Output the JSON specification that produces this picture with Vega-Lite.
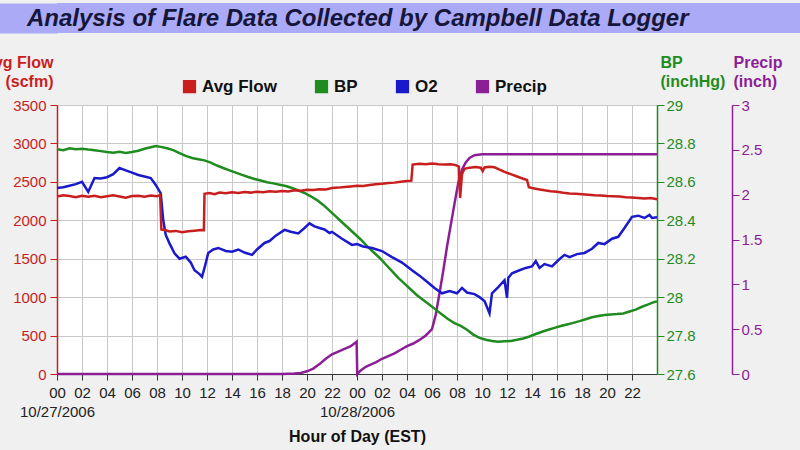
{
  "$schema": "https://vega.github.io/schema/vega-lite/v6.json",
  "background": "#f0f0f0",
  "padding": {"left": -20, "top": 3, "right": 0, "bottom": 7},
  "config": {"font": "Liberation Sans", "axis": {"labelFont": "Liberation Sans", "titleFont": "Liberation Sans"}, "legend": {"labelFont": "Liberation Sans"}},
  "columns": 1,
  "align": "none",
  "spacing": 20,
  "resolve": {"scale": {"x": "independent", "y": "independent", "color": "independent"}, "legend": {"color": "independent"}},
  "concat": [
    {
      "width": 745,
      "height": 30,
      "view": {"fill": "#aaaaf6", "stroke": null},
      "data": {"values": [{"t": "Analysis of Flare Data Collected by Campbell Data Logger", "p": 0, "q": 0.5}]},
      "mark": {"type": "text", "align": "left", "baseline": "middle", "font": "Liberation Sans", "fontSize": 24, "fontStyle": "italic", "fontWeight": "bold", "color": "#16163a", "dx": -30, "dy": 1},
      "encoding": {
        "text": {"field": "t"},
        "x": {"field": "p", "type": "quantitative", "scale": {"domain": [0, 1]}, "axis": null},
        "y": {"field": "q", "type": "quantitative", "scale": {"domain": [0, 1]},
          "axis": {"orient": "left", "values": [0.5], "labels": false, "domain": false, "grid": false, "title": null,
            "ticks": true, "tickSize": 62, "tickWidth": 30, "tickColor": "#aaaaf6", "tickCap": "butt"}}
      }
    },
    {
      "width": 600,
      "height": 269,
      "view": {"fill": "white", "stroke": "#333"},
      "data": {"values": [
        {"s":"F","h":0,"v":2310},{"s":"F","h":0.5,"v":2325},{"s":"F","h":1,"v":2315},{"s":"F","h":1.5,"v":2300},{"s":"F","h":2,"v":2320},{"s":"F","h":2.5,"v":2305},{"s":"F","h":3,"v":2318},{"s":"F","h":3.5,"v":2300},{"s":"F","h":4,"v":2312},{"s":"F","h":4.5,"v":2325},{"s":"F","h":5,"v":2310},{"s":"F","h":5.5,"v":2295},{"s":"F","h":6,"v":2315},{"s":"F","h":6.5,"v":2320},{"s":"F","h":7,"v":2305},{"s":"F","h":7.5,"v":2322},{"s":"F","h":8,"v":2312},{"s":"F","h":8.25,"v":2330},{"s":"F","h":8.35,"v":1880},{"s":"F","h":8.7,"v":1870},{"s":"F","h":9,"v":1855},{"s":"F","h":9.5,"v":1862},{"s":"F","h":10,"v":1845},{"s":"F","h":10.5,"v":1858},{"s":"F","h":11,"v":1865},{"s":"F","h":11.5,"v":1872},{"s":"F","h":11.75,"v":1870},{"s":"F","h":11.8,"v":2345},{"s":"F","h":12.2,"v":2355},{"s":"F","h":12.6,"v":2340},{"s":"F","h":13,"v":2360},{"s":"F","h":13.5,"v":2352},{"s":"F","h":14,"v":2365},{"s":"F","h":14.5,"v":2355},{"s":"F","h":15,"v":2368},{"s":"F","h":15.5,"v":2360},{"s":"F","h":16,"v":2372},{"s":"F","h":16.5,"v":2365},{"s":"F","h":17,"v":2378},{"s":"F","h":17.5,"v":2370},{"s":"F","h":18,"v":2382},{"s":"F","h":18.5,"v":2375},{"s":"F","h":19,"v":2390},{"s":"F","h":19.5,"v":2385},{"s":"F","h":20,"v":2398},{"s":"F","h":20.5,"v":2395},{"s":"F","h":21,"v":2405},{"s":"F","h":21.5,"v":2400},{"s":"F","h":22,"v":2420},{"s":"F","h":22.5,"v":2425},{"s":"F","h":23,"v":2432},{"s":"F","h":23.5,"v":2440},{"s":"F","h":24,"v":2448},{"s":"F","h":24.5,"v":2445},{"s":"F","h":25,"v":2460},{"s":"F","h":25.5,"v":2468},{"s":"F","h":26,"v":2475},{"s":"F","h":26.5,"v":2485},{"s":"F","h":27,"v":2490},{"s":"F","h":27.5,"v":2500},{"s":"F","h":28,"v":2510},{"s":"F","h":28.35,"v":2515},{"s":"F","h":28.45,"v":2725},{"s":"F","h":29,"v":2735},{"s":"F","h":29.5,"v":2728},{"s":"F","h":30,"v":2738},{"s":"F","h":30.5,"v":2730},{"s":"F","h":31,"v":2725},{"s":"F","h":31.5,"v":2730},{"s":"F","h":31.9,"v":2718},{"s":"F","h":32.15,"v":2700},{"s":"F","h":32.25,"v":2290},{"s":"F","h":32.4,"v":2600},{"s":"F","h":32.6,"v":2670},{"s":"F","h":33,"v":2685},{"s":"F","h":33.5,"v":2692},{"s":"F","h":33.9,"v":2685},{"s":"F","h":34.05,"v":2640},{"s":"F","h":34.2,"v":2688},{"s":"F","h":34.6,"v":2695},{"s":"F","h":35,"v":2690},{"s":"F","h":35.4,"v":2660},{"s":"F","h":35.8,"v":2630},{"s":"F","h":36.3,"v":2600},{"s":"F","h":36.8,"v":2570},{"s":"F","h":37.3,"v":2540},{"s":"F","h":37.6,"v":2525},{"s":"F","h":37.75,"v":2430},{"s":"F","h":38,"v":2420},{"s":"F","h":38.5,"v":2405},{"s":"F","h":39,"v":2390},{"s":"F","h":39.5,"v":2378},{"s":"F","h":40,"v":2370},{"s":"F","h":40.5,"v":2358},{"s":"F","h":41,"v":2350},{"s":"F","h":41.5,"v":2345},{"s":"F","h":42,"v":2338},{"s":"F","h":42.5,"v":2332},{"s":"F","h":43,"v":2325},{"s":"F","h":43.5,"v":2322},{"s":"F","h":44,"v":2315},{"s":"F","h":44.5,"v":2312},{"s":"F","h":45,"v":2308},{"s":"F","h":45.5,"v":2300},{"s":"F","h":46,"v":2295},{"s":"F","h":46.5,"v":2290},{"s":"F","h":47,"v":2285},{"s":"F","h":47.5,"v":2290},{"s":"F","h":48,"v":2275},

        {"s":"O","h":0,"v":2420},{"s":"O","h":0.5,"v":2430},{"s":"O","h":1,"v":2450},{"s":"O","h":1.5,"v":2470},{"s":"O","h":2,"v":2500},{"s":"O","h":2.5,"v":2370},{"s":"O","h":3,"v":2550},{"s":"O","h":3.5,"v":2545},{"s":"O","h":4,"v":2560},{"s":"O","h":4.5,"v":2600},{"s":"O","h":5,"v":2680},{"s":"O","h":5.5,"v":2650},{"s":"O","h":6,"v":2620},{"s":"O","h":6.5,"v":2590},{"s":"O","h":7,"v":2570},{"s":"O","h":7.5,"v":2550},{"s":"O","h":7.9,"v":2460},{"s":"O","h":8.3,"v":2350},{"s":"O","h":8.5,"v":2000},{"s":"O","h":8.7,"v":1810},{"s":"O","h":9,"v":1700},{"s":"O","h":9.4,"v":1570},{"s":"O","h":9.8,"v":1500},{"s":"O","h":10.3,"v":1525},{"s":"O","h":10.7,"v":1450},{"s":"O","h":11,"v":1350},{"s":"O","h":11.4,"v":1300},{"s":"O","h":11.6,"v":1265},{"s":"O","h":11.8,"v":1380},{"s":"O","h":12.1,"v":1575},{"s":"O","h":12.5,"v":1620},{"s":"O","h":12.9,"v":1640},{"s":"O","h":13.5,"v":1600},{"s":"O","h":14,"v":1590},{"s":"O","h":14.5,"v":1620},{"s":"O","h":15,"v":1580},{"s":"O","h":15.6,"v":1550},{"s":"O","h":16,"v":1620},{"s":"O","h":16.6,"v":1705},{"s":"O","h":17,"v":1730},{"s":"O","h":17.5,"v":1800},{"s":"O","h":18.2,"v":1875},{"s":"O","h":18.7,"v":1850},{"s":"O","h":19.3,"v":1830},{"s":"O","h":19.8,"v":1900},{"s":"O","h":20.2,"v":1960},{"s":"O","h":20.6,"v":1920},{"s":"O","h":21,"v":1900},{"s":"O","h":21.4,"v":1880},{"s":"O","h":21.8,"v":1835},{"s":"O","h":22,"v":1850},{"s":"O","h":22.8,"v":1760},{"s":"O","h":23.6,"v":1680},{"s":"O","h":24,"v":1690},{"s":"O","h":24.5,"v":1660},{"s":"O","h":25.2,"v":1640},{"s":"O","h":26,"v":1600},{"s":"O","h":26.8,"v":1520},{"s":"O","h":27.6,"v":1450},{"s":"O","h":28.4,"v":1350},{"s":"O","h":29,"v":1280},{"s":"O","h":29.6,"v":1200},{"s":"O","h":30.2,"v":1120},{"s":"O","h":30.8,"v":1050},{"s":"O","h":31.4,"v":1080},{"s":"O","h":32,"v":1050},{"s":"O","h":32.4,"v":1120},{"s":"O","h":32.8,"v":1060},{"s":"O","h":33.4,"v":1040},{"s":"O","h":33.8,"v":1000},{"s":"O","h":34.2,"v":950},{"s":"O","h":34.6,"v":790},{"s":"O","h":34.8,"v":1050},{"s":"O","h":35.3,"v":1130},{"s":"O","h":35.8,"v":1220},{"s":"O","h":36,"v":990},{"s":"O","h":36.1,"v":1250},{"s":"O","h":36.4,"v":1310},{"s":"O","h":37,"v":1350},{"s":"O","h":37.5,"v":1380},{"s":"O","h":38,"v":1400},{"s":"O","h":38.3,"v":1470},{"s":"O","h":38.6,"v":1380},{"s":"O","h":39,"v":1430},{"s":"O","h":39.6,"v":1400},{"s":"O","h":40.1,"v":1480},{"s":"O","h":40.6,"v":1550},{"s":"O","h":41,"v":1520},{"s":"O","h":41.6,"v":1560},{"s":"O","h":42.2,"v":1575},{"s":"O","h":42.8,"v":1630},{"s":"O","h":43.3,"v":1705},{"s":"O","h":43.8,"v":1690},{"s":"O","h":44.4,"v":1760},{"s":"O","h":44.9,"v":1785},{"s":"O","h":45.4,"v":1900},{"s":"O","h":46,"v":2045},{"s":"O","h":46.5,"v":2060},{"s":"O","h":47,"v":2030},{"s":"O","h":47.4,"v":2070},{"s":"O","h":47.6,"v":2030},{"s":"O","h":48,"v":2040},

        {"s":"B","h":0,"v":28.77},{"s":"B","h":0.5,"v":28.765},{"s":"B","h":1,"v":28.775},{"s":"B","h":1.5,"v":28.77},{"s":"B","h":2,"v":28.772},{"s":"B","h":2.5,"v":28.768},{"s":"B","h":3,"v":28.765},{"s":"B","h":3.5,"v":28.76},{"s":"B","h":4,"v":28.755},{"s":"B","h":4.5,"v":28.752},{"s":"B","h":5,"v":28.756},{"s":"B","h":5.5,"v":28.75},{"s":"B","h":6,"v":28.755},{"s":"B","h":6.5,"v":28.762},{"s":"B","h":7,"v":28.772},{"s":"B","h":7.5,"v":28.78},{"s":"B","h":7.9,"v":28.787},{"s":"B","h":8.3,"v":28.782},{"s":"B","h":8.8,"v":28.775},{"s":"B","h":9.3,"v":28.765},{"s":"B","h":9.8,"v":28.75},{"s":"B","h":10.3,"v":28.735},{"s":"B","h":10.8,"v":28.724},{"s":"B","h":11.3,"v":28.718},{"s":"B","h":11.8,"v":28.712},{"s":"B","h":12.3,"v":28.7},{"s":"B","h":12.8,"v":28.685},{"s":"B","h":13.3,"v":28.672},{"s":"B","h":13.8,"v":28.66},{"s":"B","h":14.3,"v":28.648},{"s":"B","h":14.8,"v":28.636},{"s":"B","h":15.3,"v":28.625},{"s":"B","h":15.8,"v":28.615},{"s":"B","h":16.3,"v":28.607},{"s":"B","h":16.8,"v":28.598},{"s":"B","h":17.3,"v":28.592},{"s":"B","h":17.8,"v":28.585},{"s":"B","h":18.3,"v":28.578},{"s":"B","h":18.8,"v":28.568},{"s":"B","h":19.3,"v":28.556},{"s":"B","h":19.8,"v":28.542},{"s":"B","h":20.3,"v":28.525},{"s":"B","h":20.8,"v":28.505},{"s":"B","h":21.3,"v":28.48},{"s":"B","h":21.8,"v":28.45},{"s":"B","h":22.3,"v":28.42},{"s":"B","h":22.8,"v":28.39},{"s":"B","h":23.3,"v":28.36},{"s":"B","h":23.8,"v":28.33},{"s":"B","h":24.3,"v":28.3},{"s":"B","h":24.8,"v":28.265},{"s":"B","h":25.3,"v":28.235},{"s":"B","h":25.8,"v":28.205},{"s":"B","h":26.3,"v":28.17},{"s":"B","h":26.8,"v":28.135},{"s":"B","h":27.3,"v":28.1},{"s":"B","h":27.8,"v":28.07},{"s":"B","h":28.3,"v":28.04},{"s":"B","h":28.8,"v":28.01},{"s":"B","h":29.3,"v":27.985},{"s":"B","h":29.8,"v":27.96},{"s":"B","h":30.3,"v":27.935},{"s":"B","h":30.8,"v":27.91},{"s":"B","h":31.3,"v":27.885},{"s":"B","h":31.8,"v":27.865},{"s":"B","h":32.3,"v":27.85},{"s":"B","h":32.8,"v":27.83},{"s":"B","h":33.3,"v":27.805},{"s":"B","h":33.8,"v":27.788},{"s":"B","h":34.3,"v":27.778},{"s":"B","h":34.8,"v":27.772},{"s":"B","h":35.3,"v":27.768},{"s":"B","h":35.8,"v":27.77},{"s":"B","h":36.3,"v":27.772},{"s":"B","h":36.8,"v":27.778},{"s":"B","h":37.3,"v":27.785},{"s":"B","h":37.8,"v":27.795},{"s":"B","h":38.3,"v":27.808},{"s":"B","h":38.8,"v":27.82},{"s":"B","h":39.3,"v":27.83},{"s":"B","h":39.8,"v":27.84},{"s":"B","h":40.3,"v":27.85},{"s":"B","h":40.8,"v":27.858},{"s":"B","h":41.3,"v":27.866},{"s":"B","h":41.8,"v":27.875},{"s":"B","h":42.3,"v":27.885},{"s":"B","h":42.8,"v":27.895},{"s":"B","h":43.3,"v":27.902},{"s":"B","h":43.8,"v":27.907},{"s":"B","h":44.3,"v":27.91},{"s":"B","h":44.8,"v":27.912},{"s":"B","h":45.3,"v":27.915},{"s":"B","h":45.8,"v":27.925},{"s":"B","h":46.3,"v":27.935},{"s":"B","h":46.8,"v":27.95},{"s":"B","h":47.3,"v":27.962},{"s":"B","h":47.8,"v":27.975},{"s":"B","h":48,"v":27.978},

        {"s":"P","h":0,"v":0},{"s":"P","h":18,"v":0},{"s":"P","h":18.5,"v":0.002},{"s":"P","h":19,"v":0.005},{"s":"P","h":19.5,"v":0.012},{"s":"P","h":20,"v":0.03},{"s":"P","h":20.5,"v":0.06},{"s":"P","h":21,"v":0.11},{"s":"P","h":21.5,"v":0.17},{"s":"P","h":22,"v":0.22},{"s":"P","h":22.5,"v":0.25},{"s":"P","h":23,"v":0.28},{"s":"P","h":23.5,"v":0.31},{"s":"P","h":23.97,"v":0.36},{"s":"P","h":24.02,"v":0},{"s":"P","h":24.3,"v":0.04},{"s":"P","h":24.7,"v":0.08},{"s":"P","h":25,"v":0.1},{"s":"P","h":25.5,"v":0.13},{"s":"P","h":26,"v":0.17},{"s":"P","h":26.5,"v":0.2},{"s":"P","h":27,"v":0.23},{"s":"P","h":27.5,"v":0.27},{"s":"P","h":28,"v":0.31},{"s":"P","h":28.5,"v":0.34},{"s":"P","h":29,"v":0.38},{"s":"P","h":29.5,"v":0.43},{"s":"P","h":30,"v":0.5},{"s":"P","h":30.3,"v":0.66},{"s":"P","h":30.6,"v":0.9},{"s":"P","h":30.9,"v":1.15},{"s":"P","h":31.2,"v":1.42},{"s":"P","h":31.5,"v":1.66},{"s":"P","h":31.8,"v":1.9},{"s":"P","h":32.1,"v":2.13},{"s":"P","h":32.4,"v":2.28},{"s":"P","h":32.7,"v":2.36},{"s":"P","h":33,"v":2.41},{"s":"P","h":33.4,"v":2.44},{"s":"P","h":34,"v":2.45},{"s":"P","h":48,"v":2.45}
      ]},
      "encoding": {
        "x": {"field": "h", "type": "quantitative", "scale": {"domain": [0, 48], "nice": false},
          "axis": {"values": [0,2,4,6,8,10,12,14,16,18,20,22,24,26,28,30,32,34,36,38,40,42,44,46],
            "labelExpr": "datum.value % 24 == 0 ? [(datum.value % 24 < 10 ? '0' : '') + (datum.value % 24), datum.value == 0 ? '10/27/2006' : '10/28/2006'] : (datum.value % 24 < 10 ? '0' : '') + (datum.value % 24)",
            "labelOverlap": false, "labelFlush": false, "labelFontSize": 15, "labelColor": "#222", "labelPadding": 5, "labelLineHeight": 19,
            "tickSize": 6, "tickColor": "#333", "domainColor": "#333",
            "grid": true, "gridColor": "#c8c8c8",
            "title": "Hour of Day (EST)", "titleFontSize": 16, "titleFontWeight": "bold", "titleColor": "#111", "titlePadding": 9}}
      },
      "resolve": {"scale": {"y": "independent"}},
      "layer": [
        {
          "transform": [{"filter": "datum.s == 'P'"}],
          "mark": {"type": "line", "strokeWidth": 2.5},
          "encoding": {
            "y": {"field": "v", "type": "quantitative", "scale": {"domain": [0, 3], "nice": false},
              "axis": {"orient": "right", "offset": 75, "values": [0,0.5,1,1.5,2,2.5,3], "format": ".1~f", "grid": false,
                "domainColor": "#8c1e96", "domainWidth": 1.5, "tickColor": "#8c1e96", "tickSize": 7, "labelColor": "#8c1e96", "labelFontSize": 15, "labelPadding": 2,
                "title": ["Precip", "(inch)"], "titleAngle": 0, "titleAlign": "left", "titleBaseline": "alphabetic", "titleX": 1, "titleY": -38, "titleColor": "#8c1e96", "titleFontSize": 16, "titleFontWeight": "bold", "titleLineHeight": 19}},
            "color": {"datum": "Precip", "type": "nominal",
              "scale": {"domain": ["Avg Flow", "BP", "O2", "Precip"], "range": ["#c81e1e", "#1f8c1f", "#1a1acc", "#8c1e96"]},
              "legend": {"orient": "none", "legendX": 124, "legendY": -27, "direction": "horizontal", "title": null, "padding": 0,
                "symbolType": "square", "symbolSize": 144, "labelFontSize": 17, "labelFontWeight": "bold", "labelColor": "#111", "labelOffset": 4, "columnPadding": 36,
                "encode": {"symbols": {"update": {
                  "fill": {"signal": "datum.value == 'Avg Flow' ? '#c81e1e' : datum.value == 'BP' ? '#1f8c1f' : datum.value == 'O2' ? '#1a1acc' : '#8c1e96'"},
                  "stroke": {"value": "#222"}, "strokeWidth": {"value": 1.2}, "opacity": {"value": 1}}}}}}
          }
        },
        {
          "transform": [{"filter": "datum.s == 'B'"}],
          "mark": {"type": "line", "strokeWidth": 2.5},
          "encoding": {
            "y": {"field": "v", "type": "quantitative", "scale": {"domain": [27.6, 29], "nice": false, "zero": false},
              "axis": {"orient": "right", "values": [27.6,27.8,28,28.2,28.4,28.6,28.8,29], "format": ".1~f", "grid": false,
                "domainColor": "#1f8c1f", "domainWidth": 1.5, "tickColor": "#1f8c1f", "tickSize": 7, "labelColor": "#1f8c1f", "labelFontSize": 15, "labelPadding": 2,
                "title": ["BP", "(inchHg)"], "titleAngle": 0, "titleAlign": "left", "titleBaseline": "alphabetic", "titleX": 3, "titleY": -38, "titleColor": "#1f8c1f", "titleFontSize": 16, "titleFontWeight": "bold", "titleLineHeight": 19}},
            "color": {"datum": "BP", "type": "nominal"}
          }
        },
        {
          "transform": [{"filter": "datum.s == 'O'"}],
          "mark": {"type": "line", "strokeWidth": 2.5},
          "encoding": {
            "y": {"field": "v", "type": "quantitative", "scale": {"domain": [0, 3500], "nice": false}, "axis": null},
            "color": {"datum": "O2", "type": "nominal"}
          }
        },
        {
          "transform": [{"filter": "datum.s == 'F'"}],
          "mark": {"type": "line", "strokeWidth": 2.5},
          "encoding": {
            "y": {"field": "v", "type": "quantitative", "scale": {"domain": [0, 3500], "nice": false},
              "axis": {"orient": "left", "values": [0,500,1000,1500,2000,2500,3000,3500], "format": "d", "grid": true, "gridColor": "#c8c8c8",
                "domainColor": "#c81e1e", "domainWidth": 1.5, "tickColor": "#c81e1e", "tickSize": 7, "labelColor": "#c81e1e", "labelFontSize": 15, "labelPadding": 4,
                "title": ["Avg Flow", "(scfm)"], "titleAngle": 0, "titleAlign": "right", "titleBaseline": "alphabetic", "titleX": -4, "titleY": -38, "titleColor": "#c81e1e", "titleFontSize": 16, "titleFontWeight": "bold", "titleLineHeight": 19}},
            "color": {"datum": "Avg Flow", "type": "nominal"}
          }
        }
      ]
    }
  ]
}
